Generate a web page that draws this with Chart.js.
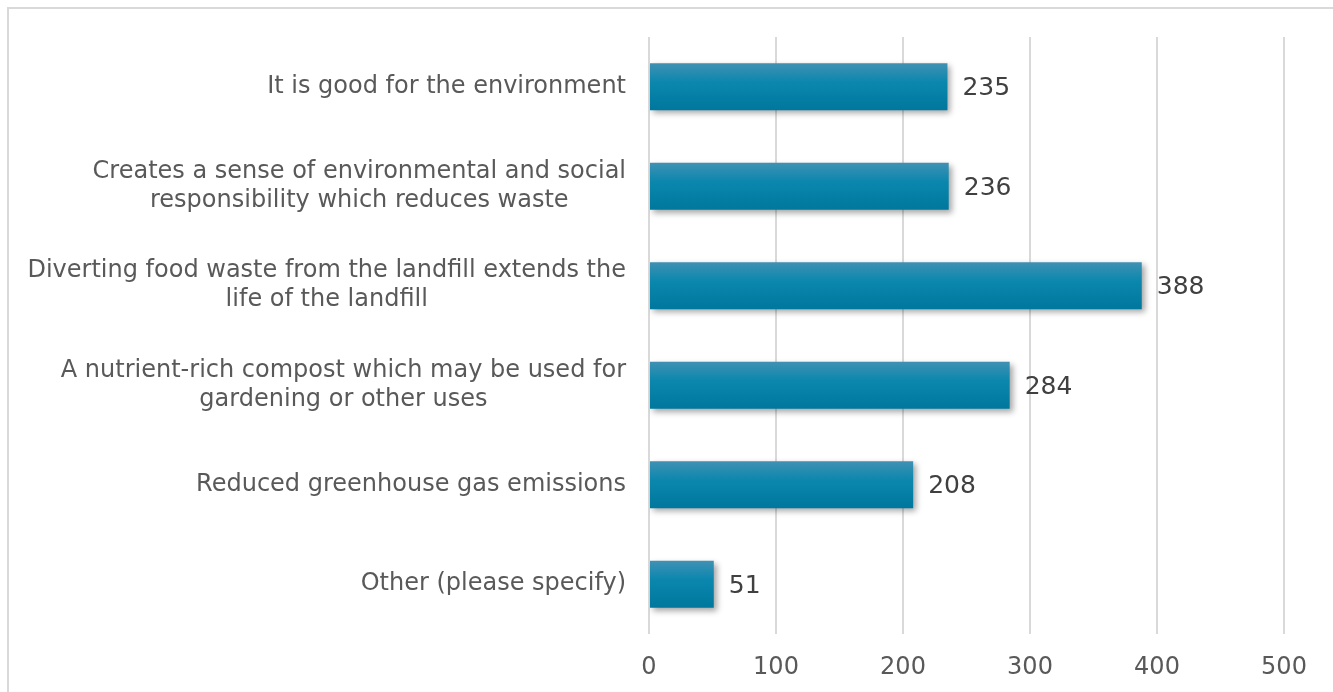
<!DOCTYPE html>
<html>
<head>
<meta charset="utf-8">
<script src="https://cdn.jsdelivr.net/npm/chart.js@4"></script>
<style>
  html, body { margin: 0; padding: 0; background: #fff; overflow: hidden; }
  #frame { position: absolute; left: 7px; top: 7px; width: 1400px; height: 760px;
           border-left: 2px solid #d9d9d9; border-top: 2px solid #d9d9d9; }
  #wrap { position: absolute; left: 0; top: 0; width: 1333px; height: 692px; }
</style>
</head>
<body>
<div id="frame"></div>
<div id="wrap"><canvas id="chart" width="1333" height="692"></canvas></div>
<script>
// categories, top to bottom
const categories = [
  ["It is good for the environment"],
  ["Creates a sense of environmental and social", "responsibility which reduces waste"],
  ["Diverting food waste from the landfill extends the", "life of the landfill"],
  ["A nutrient-rich compost which may be used for", "gardening or other uses"],
  ["Reduced greenhouse gas emissions"],
  ["Other (please specify)"]
];
const counts = [235, 236, 388, 284, 208, 51];
const xTicks = [0, 100, 200, 300, 400, 500];

const textGray = "#595959";
const labelFont = "24px 'DejaVu Sans', Verdana, sans-serif";
const numFont = "25px 'DejaVu Sans', Verdana, sans-serif";

// bar gradient, light at top, darker at bottom
function barFill(ctx) {
  const chart = ctx.chart;
  const y = chart.scales.y;
  if (!y || ctx.dataIndex === undefined) return "#0a84aa";
  const band = (y.bottom - y.top) / categories.length;
  const h = band * 0.47;
  const cy = y.getPixelForValue(ctx.dataIndex);
  if (!isFinite(cy) || !isFinite(h) || h <= 0) return "#0a84aa";
  const g = chart.ctx.createLinearGradient(0, cy - h / 2, 0, cy + h / 2);
  g.addColorStop(0, "#3f91b3");
  g.addColorStop(0.4, "#0b87ae");
  g.addColorStop(1, "#00779d");
  return g;
}

// drop shadow under bars
const shadowPlugin = {
  id: "shadow",
  beforeDatasetDraw(chart) {
    const c = chart.ctx;
    c.save();
    c.shadowColor = "rgba(0,0,0,0.35)";
    c.shadowBlur = 6;
    c.shadowOffsetX = 3;
    c.shadowOffsetY = 3;
  },
  afterDatasetDraw(chart) {
    chart.ctx.restore();
  }
};

// category labels: block right aligned, lines centered inside block (Excel style)
const catLabels = {
  id: "catLabels",
  afterDraw(chart) {
    const c = chart.ctx;
    const y = chart.scales.y;
    const right = chart.chartArea.left - 23;
    const lineH = 29;
    c.save();
    c.font = labelFont;
    c.fillStyle = textGray;
    c.textAlign = "center";
    c.textBaseline = "middle";
    categories.forEach((lines, i) => {
      const w = Math.max(...lines.map(l => c.measureText(l).width));
      const cx = right - w / 2;
      const cy = y.getPixelForValue(i);
      const top = cy - (lines.length - 1) * lineH / 2;
      lines.forEach((l, k) => c.fillText(l, cx, top + k * lineH));
    });
    c.restore();
  }
};

// value labels at bar ends
const valueLabels = {
  id: "valueLabels",
  afterDatasetsDraw(chart) {
    const c = chart.ctx;
    const meta = chart.getDatasetMeta(0);
    c.save();
    c.font = numFont;
    c.fillStyle = "#404040";
    c.textAlign = "left";
    c.textBaseline = "middle";
    meta.data.forEach((bar, i) => {
      c.fillText(String(counts[i]), bar.x + 15, bar.y + 2);
    });
    c.restore();
  }
};

new Chart(document.getElementById("chart"), {
  type: "bar",
  data: {
    labels: categories.map(l => l.join(" ")),
    datasets: [{
      data: counts,
      backgroundColor: barFill,
      borderWidth: 0,
      categoryPercentage: 1,
      barPercentage: 0.47
    }]
  },
  options: {
    indexAxis: "y",
    responsive: false,
    animation: false,
    devicePixelRatio: 1,
    layout: { padding: { top: 37, right: 49, left: 0, bottom: 0 } },
    scales: {
      x: {
        min: 0,
        max: 500,
        afterBuildTicks: s => { s.ticks = xTicks.map(v => ({ value: v })); },
        afterFit: s => { s.height = 58; },
        grid: { color: "#d9d9d9", lineWidth: 2, drawTicks: false },
        border: { display: false },
        ticks: {
          padding: 19,
          color: textGray,
          font: { family: "'DejaVu Sans', Verdana, sans-serif", size: 24 }
        }
      },
      y: {
        afterFit: s => { s.width = 649; },
        grid: { display: false },
        border: { display: false },
        ticks: { display: false }
      }
    },
    plugins: {
      legend: { display: false },
      tooltip: { enabled: false }
    }
  },
  plugins: [shadowPlugin, catLabels, valueLabels]
});
</script>
</body>
</html>
